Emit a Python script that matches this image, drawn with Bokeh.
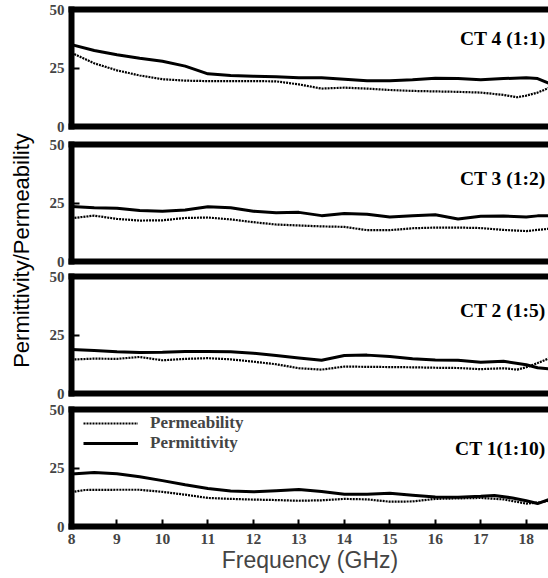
import numpy as np
from bokeh.plotting import figure
from bokeh.models import Range1d, FixedTicker, LinearAxis, Label, Legend, LegendItem
from bokeh.layouts import row, column
from bokeh.embed import file_html
from bokeh.resources import INLINE

# ---------------- data ----------------
x_ticks = [8, 9, 10, 11, 12, 13, 14, 15, 16, 17, 18]
y_ticks = [0, 25, 50]

# CT 4 (1:1)
ct4_f_eps = [8, 8.5, 9, 9.5, 10, 10.5, 11, 11.5, 12, 12.5, 13, 13.5, 14, 14.5, 15, 15.5, 16, 16.5, 17, 17.5, 18, 18.25, 18.5]
ct4_eps = [35.0, 32.5, 30.7, 29.2, 27.9, 25.8, 22.5, 21.8, 21.5, 21.3, 20.8, 20.8, 20.2, 19.5, 19.5, 20.0, 20.6, 20.5, 20.0, 20.5, 20.8, 20.5, 18.5]
ct4_f_mu = [8, 8.5, 9, 9.5, 10, 10.5, 11, 11.5, 12, 12.5, 13, 13.5, 14, 14.5, 15, 15.5, 16, 16.5, 17, 17.5, 17.8, 18, 18.25, 18.5]
ct4_mu = [31.5, 27.0, 24.0, 21.8, 20.2, 19.6, 19.4, 19.4, 19.4, 19.3, 18.0, 16.2, 16.6, 16.2, 15.6, 15.2, 15.0, 14.8, 14.5, 13.5, 12.5, 13.2, 14.5, 16.5]

# CT 3 (1:2)
ct3_f_eps = [8, 8.5, 9, 9.5, 10, 10.5, 11, 11.5, 12, 12.5, 13, 13.5, 14, 14.5, 15, 15.5, 16, 16.5, 17, 17.5, 18, 18.25, 18.5]
ct3_eps = [23.5, 23.0, 22.8, 21.8, 21.5, 22.0, 23.4, 23.0, 21.5, 20.8, 21.0, 19.6, 20.5, 20.2, 19.0, 19.6, 20.0, 18.2, 19.3, 19.4, 19.0, 19.5, 19.5]
ct3_f_mu = [8, 8.5, 9, 9.5, 10, 10.5, 11, 11.5, 12, 12.5, 13, 13.5, 14, 14.5, 15, 15.5, 16, 16.5, 17, 17.5, 18, 18.25, 18.5]
ct3_mu = [18.5, 19.6, 18.2, 17.5, 17.6, 18.6, 18.8, 18.0, 16.8, 15.8, 15.4, 15.0, 14.8, 13.4, 13.4, 14.2, 14.5, 14.5, 14.3, 13.5, 13.0, 13.5, 14.0]

# CT 2 (1:5)
ct2_f_eps = [8, 8.5, 9, 9.5, 10, 10.5, 11, 11.5, 12, 12.5, 13, 13.5, 14, 14.5, 15, 15.5, 16, 16.5, 17, 17.5, 18, 18.25, 18.5]
ct2_eps = [18.8, 18.4, 17.8, 17.5, 17.6, 17.9, 18.0, 17.8, 17.2, 16.2, 15.2, 14.2, 16.2, 16.4, 15.8, 14.9, 14.3, 14.2, 13.4, 13.8, 12.3, 11.0, 10.5]
ct2_f_mu = [8, 8.5, 9, 9.5, 10, 10.5, 11, 11.5, 12, 12.5, 13, 13.5, 14, 14.5, 15, 15.5, 16, 16.5, 17, 17.5, 17.8, 18, 18.25, 18.5]
ct2_mu = [14.5, 14.9, 14.8, 15.6, 14.2, 14.8, 15.1, 14.6, 13.6, 12.5, 10.8, 10.2, 11.5, 11.4, 11.3, 11.2, 11.0, 10.9, 10.4, 10.8, 10.2, 11.2, 13.0, 15.0]

# CT 1 (1:10)
ct1_f_eps = [8, 8.5, 9, 9.5, 10, 10.5, 11, 11.5, 12, 12.5, 13, 13.5, 14, 14.5, 15, 15.5, 16, 16.5, 17, 17.3, 17.7, 18, 18.25, 18.5]
ct1_eps = [22.4, 23.1, 22.5, 21.3, 19.6, 17.8, 16.2, 15.2, 14.8, 15.3, 15.8, 15.0, 13.8, 13.8, 14.2, 13.4, 12.6, 12.5, 12.9, 13.2, 12.2, 11.0, 9.8, 11.5]
ct1_f_mu = [8, 8.3, 9, 9.5, 10, 10.5, 11, 11.5, 12, 12.5, 13, 13.5, 14, 14.5, 15, 15.5, 16, 16.5, 17, 17.5, 18, 18.25, 18.5]
ct1_mu = [14.7, 15.6, 15.7, 15.7, 14.8, 13.6, 12.2, 11.8, 11.5, 11.3, 11.0, 11.2, 11.8, 11.6, 10.6, 10.7, 11.8, 12.0, 12.2, 11.6, 9.8, 10.2, 11.0]

panel_names = ["CT 4 (1:1)", "CT 3 (1:2)", "CT 2 (1:5)", "CT 1(1:10)"]
panel_name_y = [37.5, 35.5, 35.5, 33.5]

SERIF = "Liberation Serif"
SANS = "Liberation Sans"
LABEL_W = 38
FRAME_W = 477
FRAME_H = 117
X_END = 18.49
AXW = 6


def make_panel(f_eps, eps, f_mu, mu, name, name_y, top, bottom, last=False, legend=False):
    p = figure(frame_width=FRAME_W, frame_height=FRAME_H,
               x_range=Range1d(8, X_END), y_range=Range1d(0, 50),
               output_backend="svg", toolbar_location=None, title=None,
               min_border_left=71 - LABEL_W, min_border_right=0,
               min_border_top=top, min_border_bottom=bottom)
    p.outline_line_color = None
    p.grid.visible = False
    p.background_fill_color = "white"

    ya = p.yaxis[0]
    ya.ticker = FixedTicker(ticks=y_ticks)
    ya.axis_line_width = AXW
    ya.axis_line_cap = "square"
    ya.major_tick_in = 8
    ya.major_tick_out = 0
    ya.major_tick_line_width = 2
    ya.minor_tick_in = 0
    ya.minor_tick_out = 0
    ya.major_label_text_font = SERIF
    ya.major_label_text_font_style = "bold"
    ya.major_label_text_font_size = "15px"
    ya.major_label_standoff = 7

    xa = p.xaxis[0]
    xa.axis_line_width = AXW
    xa.axis_line_cap = "square"
    xa.minor_tick_in = 0
    xa.minor_tick_out = 0
    xa.major_tick_out = 0
    if last:
        xa.ticker = FixedTicker(ticks=x_ticks)
        xa.major_tick_in = 7
        xa.major_tick_line_width = 2
        xa.major_label_text_font = SERIF
        xa.major_label_text_font_style = "bold"
        xa.major_label_text_font_size = "15.5px"
        xa.major_label_standoff = 7
        xa.axis_label = "Frequency (GHz)"
        xa.axis_label_text_font = SANS
        xa.axis_label_text_font_style = "normal"
        xa.axis_label_text_font_size = "23px"
        xa.axis_label_standoff = 0
    else:
        xa.ticker = FixedTicker(ticks=[])
        xa.major_tick_in = 0
        xa.major_label_text_font_size = "0px"
        xa.major_label_standoff = 0

    ta = LinearAxis(ticker=FixedTicker(ticks=[]), axis_line_width=AXW, axis_line_cap="square",
                    major_tick_in=0, major_tick_out=0, minor_tick_in=0, minor_tick_out=0,
                    major_label_text_font_size="0px", major_label_standoff=0)
    p.add_layout(ta, "above")

    r_eps = p.line(f_eps, eps, line_color="black", line_width=3)
    r_mu = p.line(f_mu, mu, line_color="black", line_width=2.2, line_dash="2 1")

    p.add_layout(Label(x=X_END, y=name_y, text=name, text_align="right", text_baseline="middle",
                       x_offset=-3, text_font=SERIF, text_font_style="bold",
                       text_font_size="19.5px", text_color="black"))

    if legend:
        lg = Legend(items=[LegendItem(label="Permeability", renderers=[r_mu]),
                           LegendItem(label="Permittivity", renderers=[r_eps])],
                    location=(12, FRAME_H - 12 - 32), padding=0, margin=0, spacing=0,
                    glyph_width=55, glyph_height=16, label_height=16, label_standoff=12,
                    label_text_font=SERIF, label_text_font_style="bold",
                    label_text_font_size="17px", border_line_color=None,
                    background_fill_alpha=0)
        p.add_layout(lg)
    return p


p1 = make_panel(ct4_f_eps, ct4_eps, ct4_f_mu, ct4_mu, panel_names[0], panel_name_y[0], 9, 9)
p2 = make_panel(ct3_f_eps, ct3_eps, ct3_f_mu, ct3_mu, panel_names[1], panel_name_y[1], 9, 7)
p3 = make_panel(ct2_f_eps, ct2_eps, ct2_f_mu, ct2_mu, panel_names[2], panel_name_y[2], 8, 7)
p4 = make_panel(ct1_f_eps, ct1_eps, ct1_f_mu, ct1_mu, panel_names[3], panel_name_y[3], 9, 10,
                last=True, legend=True)

TOTAL_H = 574
lab = figure(width=LABEL_W, height=TOTAL_H, x_range=Range1d(0, LABEL_W), y_range=Range1d(0, TOTAL_H),
             x_axis_type=None, y_axis_type=None, output_backend="svg",
             toolbar_location=None, title=None, min_border=0)
lab.grid.visible = False
lab.outline_line_color = None
lab.add_layout(Label(x=21, y=TOTAL_H - 250, text="Permittivity/Permeability", angle=np.pi / 2,
                     text_align="center", text_baseline="middle", text_font=SANS,
                     text_font_size="22px", text_color="black"))

layout = row(lab, column(p1, p2, p3, p4))

open("out.html", "w").write(file_html(layout, INLINE))
